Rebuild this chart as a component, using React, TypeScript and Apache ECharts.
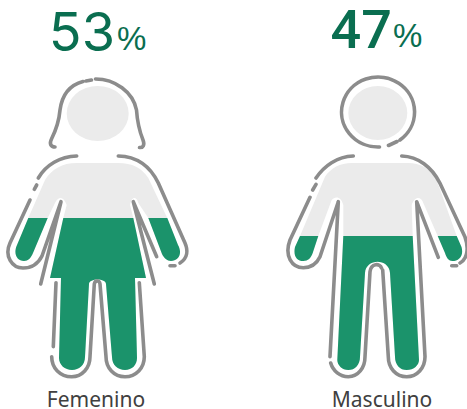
import React, { useEffect, useRef } from "react";
import * as echarts from "echarts";

const categories = ["Femenino", "Masculino"];
const values = [53, 47];
const tickLabels = ["Femenino", "Masculino"];

const GREEN = "#1b936b";
const BASE = "#ebebeb";
const LINE = "#8c8c8c";
const TITLE = "#0a6e50";

// Pictogram glyphs, drawn in page pixels relative to each figure's own origin.
const femaleOriginX = 96;
const maleOriginX = 382;
const femaleFill =
  "M76.7,163 L118.3,163 C132,163 142,168 148.3,178 L167.3,218 L178,245 C183,254 178,261 171,261 C167,261 164,258 162,254 L148.3,218 L138.3,203 C136.5,196 131.5,196 130,205 L133.3,218 L146,278 L135,278 L137,358 C137,365 132,370 125,370 C118,370 112,365 112,357 L106,284 C106,278 89,278 89,284 L85,357 C85,365 79,370 72,370 C65,370 59,365 59,358 L61,278 L50,278 L63.3,218 L66.7,205 C63.5,196 58.5,196 55,203 L47.7,218 L33,253 C31,258 28,261 24,261 C17,261 13,254 17,245 L28.3,218 L45,180 C52,169 62,163 76.7,163 Z " +
  "M66.7,113.5 A31,27.5 0 1 1 128.7,113.5 A31,27.5 0 1 1 66.7,113.5 Z";
const femaleLine =
  "M95.5,79 C115,79 133,92 136.5,110 C137.5,125 141,135 143,140 C145,145 143,148 139.5,147.5 " +
  "M83,81.5 C70,85 62,95 60,110 C59,122 55,132 51.5,139 C49,144 51,147 55,147 " +
  "M86,81 L91.5,80 " +
  "M76.7,156 C60,156.5 46,165 38.3,178 M36.7,185 L34.3,189.3 " +
  "M30,200 L10,243 C4,256 12,268 23,268 C32,268 38,264 42,256 L61,201.7 L40.7,284 " +
  "M118.3,156 C138,156.5 151,168 158.3,183 L185,243 C188,250 188,258 180,263 M170,265.7 L175,265.7 " +
  "M156.7,256.7 L133.3,201.7 L154.3,284 " +
  "M56,282.7 L53.3,346.7 M51.7,356.7 C51.7,368 60,376.7 71.7,376.7 C82,376.7 90,368 90,356.7 L94.3,284 C95,280 99.5,280 100,284 L106,356.7 C106,368 114,376.7 125,376.7 C136,376.7 144.3,368 144.3,356.7 L139.3,282.7";
const maleFill =
  "M351.7,163 L408,163 C420,163 430,168 436.7,180 L456.7,236 L461.5,247 C464,256 459,261 452.3,261 C449,261 446.5,258 445,253 L437.7,236 L423.3,203 C421,196 414.5,196 411.7,205 L412.7,236 L419,360 C419,365 414,370 406.7,370 C400,370 395,365 395,356.7 L390,273 C389,258 366,258 365,273 L360,356.7 C360,365 355,370 348.3,370 C342,370 337.3,365 337.3,360 L343.3,236 L343.3,205 C341,196 335,196 331.7,200 L318.3,236 L312.7,253 C311,258 308,261 303.3,261 C297,261 293,256 295,247 L300,236 L325,176.7 C331,168 340,163 351.7,163 Z " +
  "M348.3,113 A29.5,27 0 1 1 407.3,113 A29.5,27 0 1 1 348.3,113 Z";
const maleLine =
  "M379.5,147 A36.5,35 0 1 1 400,140 M388.5,145.5 L397,141.5 " +
  "M353.3,156 C337,156.5 324,166 316,178 M316,184.3 L312.7,190 " +
  "M310,197.3 L290,240 C284,256 292,267.7 303.3,267.7 C311,267.7 317,263 320,256.7 L338.3,201.7 L330,356.7 " +
  "M330.7,363 C333,371 340,376.7 348.3,376.7 C358,376.7 365,368 365,356.7 L370,271.7 C371,263 380,263 381.5,268 " +
  "M382.7,270 L388.3,356.7 C388.3,368 396,376.7 406.7,376.7 C417,376.7 425,368 425,356.7 L416.7,201.7 L438.3,257.3 " +
  "M401.7,156 C418,156.5 432,167 440,183.3 L465,237 C468,245 469,258 460,263 M451.7,265.7 L456.7,265.7";

const figures = [
  { originX: femaleOriginX, fill: femaleFill, line: femaleLine, digitsX: 115, digitsY: 58, digitSize: 54, percentX: 117, percentSize: 33, percentY: 55, weight: 400, font: "Inter" },
  { originX: maleOriginX, fill: maleFill, line: maleLine, digitsX: 392, digitsY: 56, digitSize: 54, percentX: 393, percentSize: 33, percentY: 52, weight: 500, font: "Roboto" },
];

export default function App() {
  const ref = useRef<HTMLDivElement>(null);
  useEffect(() => {
    const chart = echarts.init(ref.current!, undefined, { renderer: "svg" });
    chart.setOption({
      animation: false,
      backgroundColor: "#ffffff",
      grid: { left: 96, right: 85, top: 78, bottom: 33 },
      xAxis: {
        type: "category",
        boundaryGap: false,
        data: tickLabels,
        axisLine: { show: false },
        axisTick: { show: false },
        axisLabel: { color: "#404040", fontSize: 21, fontFamily: "Noto Sans", margin: 12 },
      },
      yAxis: { type: "value", min: 0, max: 100, show: false },
      series: [
        {
          type: "custom",
          coordinateSystem: "cartesian2d",
          clip: false,
          data: categories.map((c, i) => [i, values[i]]),
          renderItem: (params: any, api: any) => {
            const i = api.value(0);
            const f = figures[i];
            const level = api.coord([i, api.value(1)]);
            const tx = level[0] - f.originX;
            const clipY = level[1];
            return {
              type: "group",
              children: [
                { type: "path", x: tx, shape: { pathData: f.fill }, style: { fill: BASE, stroke: "none" } },
                {
                  type: "path",
                  x: tx,
                  shape: { pathData: f.fill },
                  style: { fill: GREEN, stroke: "none" },
                  clipPath: { type: "rect", shape: { x: f.originX - 200, y: clipY, width: 400, height: 300 } },
                },
                {
                  type: "path",
                  x: tx,
                  shape: { pathData: f.line },
                  style: { fill: "none", stroke: LINE, lineWidth: 3.6, lineCap: "round", lineJoin: "round" },
                },
                {
                  type: "text",
                  x: f.digitsX + tx,
                  y: f.digitsY,
                  style: {
                    text: String(api.value(1)),
                    fill: TITLE,
                    fontFamily: f.font,
                    fontSize: f.digitSize,
                    fontWeight: f.weight,
                    align: "right",
                    verticalAlign: "bottom",
                  },
                },
                {
                  type: "text",
                  x: f.percentX + tx,
                  y: f.percentY,
                  style: {
                    text: "%",
                    fill: TITLE,
                    fontFamily: "Liberation Sans",
                    fontSize: f.percentSize,
                    align: "left",
                    verticalAlign: "bottom",
                  },
                },
              ],
            };
          },
        },
      ],
    });
    return () => chart.dispose();
  }, []);
  return <div ref={ref} style={{ width: 467, height: 409, position: "absolute", left: 0, top: 0 }} />;
}
